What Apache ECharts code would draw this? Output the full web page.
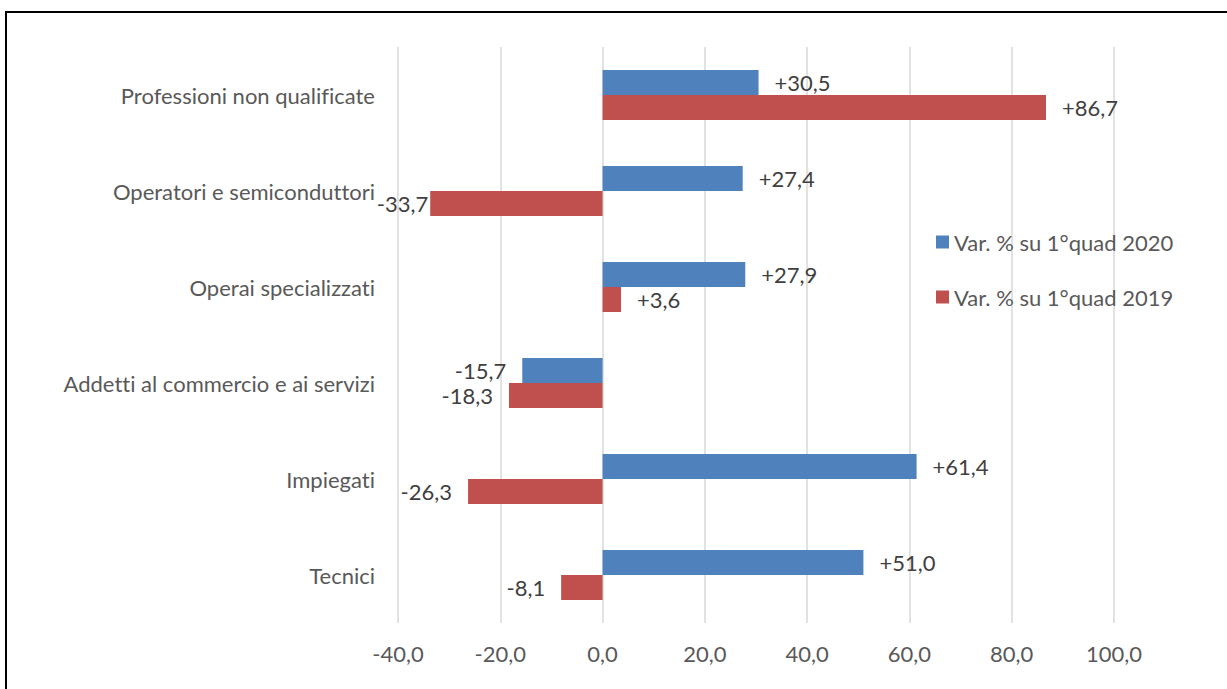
<!DOCTYPE html>
<html>
<head>
<meta charset="utf-8">
<script src="https://cdn.jsdelivr.net/npm/echarts@6/dist/echarts.min.js"></script>
<style>
	html, body { margin: 0; padding: 0; background: #fff; overflow: hidden; }
	#frame { position: absolute; left: 5px; top: 11px; width: 1260px; height: 720px; border: 2px solid #000; }
	#chart { position: absolute; left: 0; top: 0; width: 1227px; height: 689px; }
	#chart text { font-variant-ligatures: none; }
</style>
</head>
<body>
<div id="frame"></div>
<div id="chart"></div>
<script>
// categories top to bottom
const categories = [
	"Professioni non qualificate",
	"Operatori e semiconduttori",
	"Operai specializzati",
	"Addetti al commercio e ai servizi",
	"Impiegati",
	"Tecnici",
];
const seriesNames = ["Var. % su 1°quad 2020", "Var. % su 1°quad 2019"];
const var2020 = [30.5, 27.4, 27.9, -15.7, 61.4, 51.0];
const var2019 = [86.7, -33.7, 3.6, -18.3, -26.3, -8.1];
const colors = ["#4f81bd", "#c0504d"];

const font = "Lato";
const fontSize = 22;
const textColor = "#595959";

const fmt = (v) => (v > 0 ? "+" : "") + v.toFixed(1).replace(".", ",");

const chart = echarts.init(document.getElementById("chart"), null, { renderer: "svg" });

const makeSeries = (name, values, color) => ({
	name,
	type     : "bar",
	barWidth : 25,
	barGap   : "0%",
	itemStyle: { color },
	data     : values.map(v => ({
		value : v,
		// labels near the left edge get pulled in against the bar, like the original
		label : { position: v < 0 ? "left" : "right", distance: v < -30 ? 2 : 16 },
	})),
	label: {
		show       : true,
		color      : "#404040",
		fontFamily : font,
		fontSize,
		padding    : [0, 0, 3, 0],
		formatter  : (p) => fmt(p.value),
	},
});

chart.setOption({
	animation : false,
	textStyle : { fontFamily: font },
	grid      : {
		left   : 398,
		right  : 113,
		top    : 47,
		bottom : 66,
	},
	legend: {
		orient    : "vertical",
		left      : 931,
		top       : 226,
		itemWidth : 13,
		itemHeight: 13,
		itemGap   : 33,
		icon      : "rect",
		data      : seriesNames,
		textStyle : {
			color      : textColor,
			fontFamily : font,
			fontSize,
			lineHeight : 22,
		},
	},
	xAxis: {
		type     : "value",
		min      : -40,
		max      : 100,
		interval : 20,
		axisLine : { show: false },
		axisTick : { show: false },
		splitLine: { lineStyle: { color: "#d9d9d9", width: 1.5 } },
		axisLabel: {
			color      : textColor,
			fontFamily : font,
			fontSize,
			margin     : 19,
			formatter  : (v) => v.toFixed(1).replace(".", ","),
		},
	},
	yAxis: {
		type     : "category",
		inverse  : true,
		data     : categories,
		axisLine : { show: false },
		axisTick : { show: false },
		axisLabel: {
			color      : textColor,
			fontFamily : font,
			fontSize,
			margin     : 23,
			padding    : [0, 0, 4, 0],
		},
	},
	series: [
		makeSeries(seriesNames[0], var2020, colors[0]),
		makeSeries(seriesNames[1], var2019, colors[1]),
	],
});
</script>
</body>
</html>
